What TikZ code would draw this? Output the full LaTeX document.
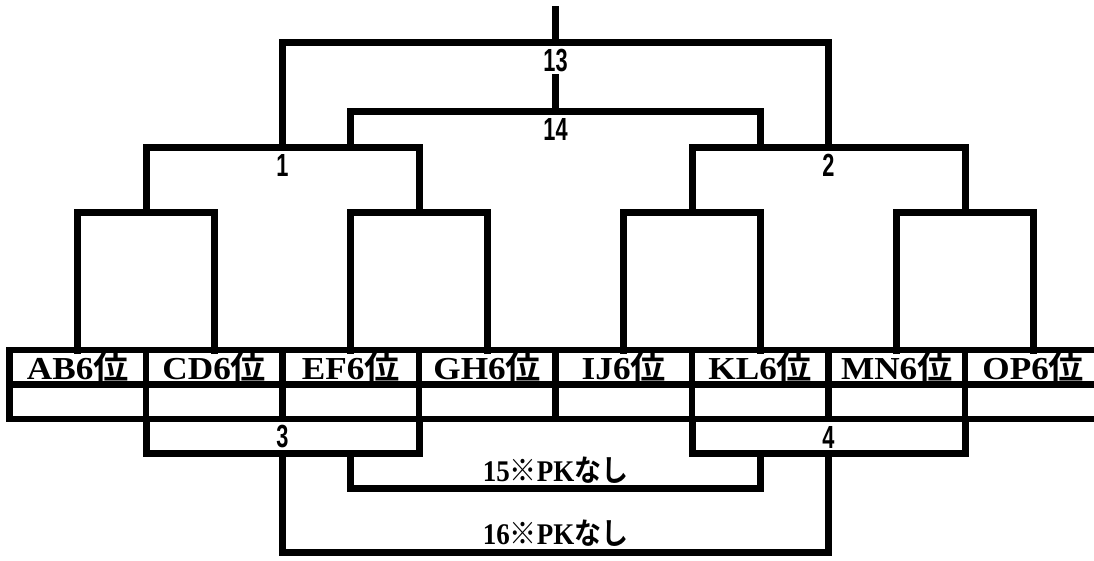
\documentclass[tikz,border=0pt]{standalone}
\usepackage{fontspec}
\setmainfont{Liberation Serif}
\newfontfamily\numf{Liberation Sans}
\newfontfamily\jpf{Noto Sans CJK JP}[BoldFont={Noto Sans CJK JP Bold}]
\begin{document}
\begin{tikzpicture}[x=1pt,y=-1pt,
  br/.style={line width=7pt,line join=miter,line cap=rect},
  grid/.style={line width=6.5pt,line cap=rect},
  team/.style={inner sep=0pt,xscale=1.1,font=\fontsize{32}{32}\selectfont\bfseries},
  rnd/.style={inner sep=0pt,xscale=0.68,font=\fontsize{32}{32}\selectfont\numf\bfseries},
  pk/.style={inner sep=0pt,xscale=0.9,font=\fontsize{30}{30}\selectfont\bfseries}]
\useasboundingbox[fill=white] (0,0) rectangle (1094,561);
% column borders and centres
\foreach \i in {0,...,7}{
  \coordinate (b\i) at ({9.5+136.5*\i},0);
  \coordinate (c\i) at ({77.75+136.5*\i},0);
}
% table
\foreach \yy in {350,384.5,419}{
  \draw[grid] (9.5,\yy) -- (1094,\yy);
}
\foreach \i in {0,...,7}{
  \draw[grid] (b\i |- 0,350) -- (b\i |- 0,419);
}
\foreach \t [count=\k from 0] in {AB,CD,EF,GH,IJ,KL,MN,OP}{
  \node[team] (t\k) at (c\k |- 0,367) {\t 6{\jpf\bfseries 位}};
}
% round 1 (y=213)
\foreach \a/\b in {0/1,2/3,4/5,6/7}{
  \draw[br] (c\a |- 0,350) -- (c\a |- 0,213) -- (c\b |- 0,213) -- (c\b |- 0,350);
}
% round 2 (y=148)
\draw[br] (b1 |- 0,213) -- (b1 |- 0,148) -- (b3 |- 0,148) -- (b3 |- 0,213);
\draw[br] (b5 |- 0,213) -- (b5 |- 0,148) -- (b7 |- 0,148) -- (b7 |- 0,213);
\node[rnd] (n1) at (b2 |- 0,165) {1};
\node[rnd] (n2) at (b6 |- 0,165) {2};
% 13
\draw[br] (b2 |- 0,148) -- (b2 |- 0,43) -- (b6 |- 0,43) -- (b6 |- 0,148);
\draw[br] (b4 |- 0,10) -- (b4 |- 0,43);
\node[rnd] (n13) at (b4 |- 0,61) {13};
% 14
\draw[br] (c2 |- 0,148) -- (c2 |- 0,112) -- (c5 |- 0,112) -- (c5 |- 0,148);
\draw[br] (b4 |- 0,78) -- (b4 |- 0,112);
\node[rnd] (n14) at (b4 |- 0,129) {14};
% bottom: 3 and 4
\draw[br] (b1 |- 0,419) -- (b1 |- 0,453) -- (b3 |- 0,453) -- (b3 |- 0,419);
\draw[br] (b5 |- 0,419) -- (b5 |- 0,453) -- (b7 |- 0,453) -- (b7 |- 0,419);
\node[rnd] (n3) at (b2 |- 0,437) {3};
\node[rnd] (n4) at (b6 |- 0,437) {4};
% 15
\draw[br] (c2 |- 0,453) -- (c2 |- 0,488) -- (c5 |- 0,488) -- (c5 |- 0,453);
\node[pk] (n15) at (b4 |- 0,470) {15{\jpf\bfseries ※}PK{\jpf\bfseries なし}};
% 16
\draw[br] (b2 |- 0,453) -- (b2 |- 0,552) -- (b6 |- 0,552) -- (b6 |- 0,453);
\node[pk] (n16) at (b4 |- 0,533) {16{\jpf\bfseries ※}PK{\jpf\bfseries なし}};
\end{tikzpicture}
\end{document}
